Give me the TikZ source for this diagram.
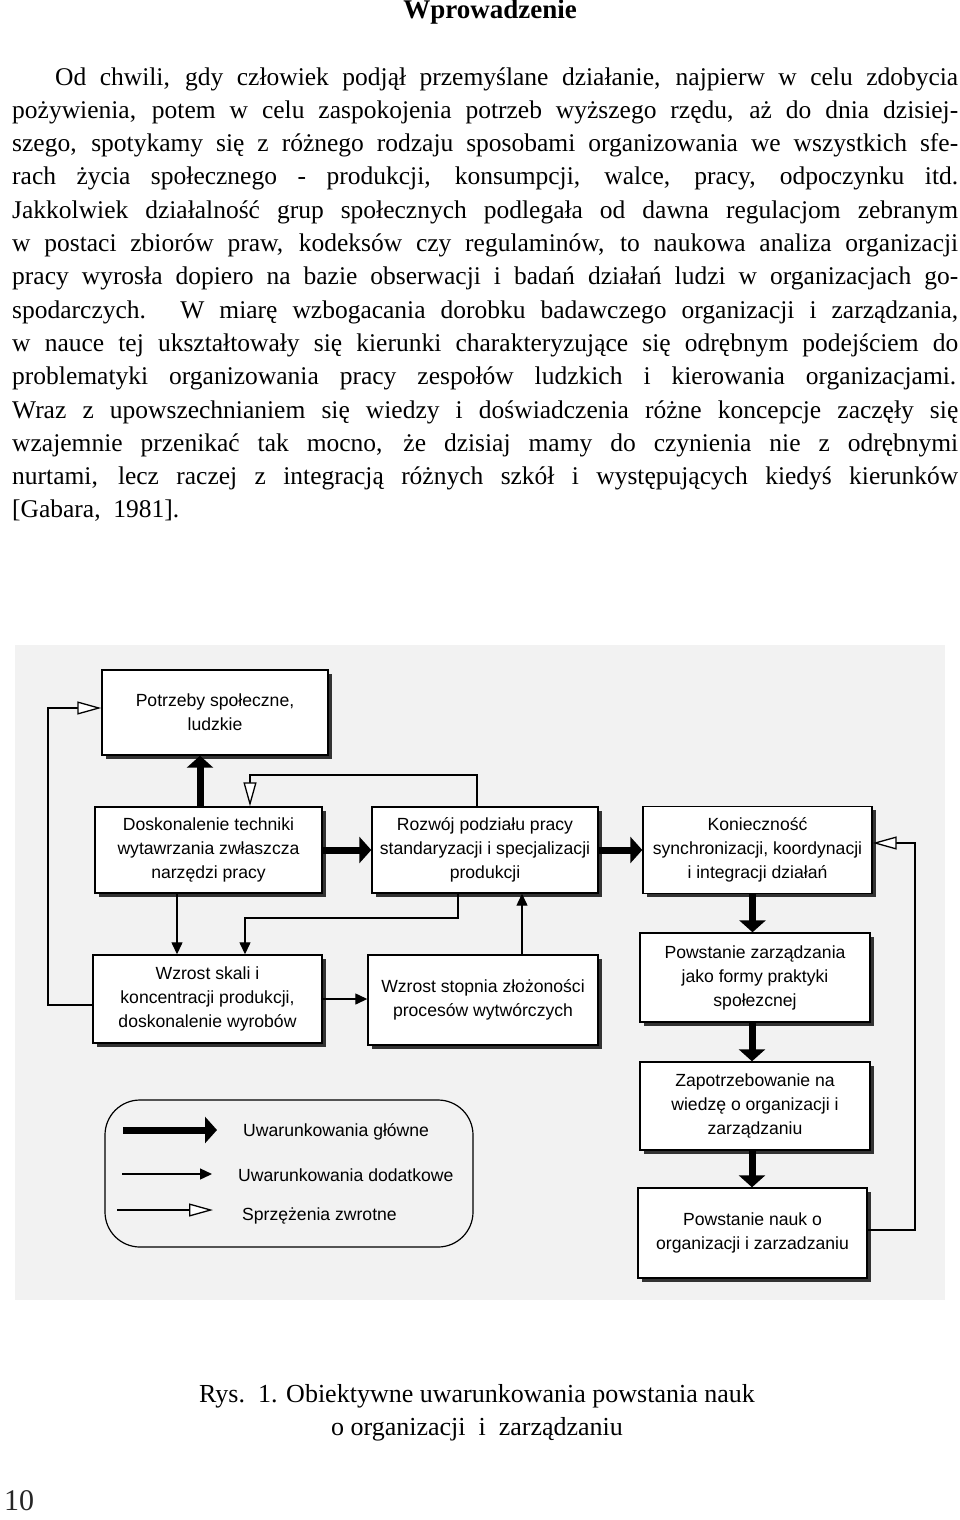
\documentclass[tikz,border=0pt]{standalone}
\usepackage{fontspec}
\setmainfont{Liberation Serif}
\newfontfamily\bodyfont{Liberation Serif}
\newfontfamily\diagfont{Liberation Sans}
\usetikzlibrary{arrows.meta,shadows,calc}
\tikzset{
  box/.style={draw, line width=1.4pt, fill=white, align=center,
    font=\diagfont\fontsize{17.6}{24}\selectfont, inner sep=3pt,
    drop shadow={shadow xshift=3.5pt, shadow yshift=-3.5pt, fill=black!80, opacity=1}},
  mainarr/.style={line width=7pt, -{Triangle[length=12pt,width=26pt]}},
  addarr/.style={line width=1.3pt, -{Triangle[length=12pt,width=11pt]}},
  fbarr/.style={line width=1.3pt, -{Triangle[open,length=24pt,width=13pt,fill=white]}},
  bodyline/.style={anchor=base west, inner sep=0pt, font=\bodyfont\fontsize{25.5}{33}\selectfont},
  captline/.style={anchor=base, inner sep=0pt, font=\bodyfont\fontsize{26}{33}\selectfont},
  leglabel/.style={anchor=west, inner sep=0pt, font=\diagfont\fontsize{17.6}{20}\selectfont},
}
\begin{document}
\begin{tikzpicture}[x=1pt,y=-1pt]
\useasboundingbox[fill=white] (0,0) rectangle (960,1520);

% title and text
\node[anchor=base, inner sep=0pt, font=\bodyfont\bfseries\fontsize{27}{30}\selectfont] (title) at (490,19) {Wprowadzenie};
\node[bodyline] (l1) at (55,85) {\makebox[903pt][s]{Od chwili, gdy człowiek podjął przemyślane działanie, najpierw w celu zdobycia}};
\node[bodyline] (l2) at (12,118.3) {\makebox[946pt][s]{pożywienia, potem w celu zaspokojenia potrzeb wyższego rzędu, aż do dnia dzisiej-}};
\node[bodyline] (l3) at (12,151.6) {\makebox[946pt][s]{szego, spotykamy się z różnego rodzaju sposobami organizowania we wszystkich sfe-}};
\node[bodyline] (l4) at (12,184.9) {\makebox[946pt][s]{rach życia społecznego - produkcji, konsumpcji, walce, pracy, odpoczynku itd.}};
\node[bodyline] (l5) at (12,218.2) {\makebox[946pt][s]{Jakkolwiek działalność grup społecznych podlegała od dawna regulacjom zebranym}};
\node[bodyline] (l6) at (12,251.5) {\makebox[946pt][s]{w postaci zbiorów praw, kodeksów czy regulaminów, to naukowa analiza organizacji}};
\node[bodyline] (l7) at (12,284.8) {\makebox[946pt][s]{pracy wyrosła dopiero na bazie obserwacji i badań działań ludzi w organizacjach go-}};
\node[bodyline] (l8) at (12,318.1) {\makebox[946pt][s]{spodarczych. W miarę wzbogacania dorobku badawczego organizacji i zarządzania,}};
\node[bodyline] (l9) at (12,351.4) {\makebox[946pt][s]{w nauce tej ukształtowały się kierunki charakteryzujące się odrębnym podejściem do}};
\node[bodyline] (l10) at (12,384.7) {\makebox[944pt][s]{problematyki organizowania pracy zespołów ludzkich i kierowania organizacjami.}};
\node[bodyline] (l11) at (12,418) {\makebox[946pt][s]{Wraz z upowszechnianiem się wiedzy i doświadczenia różne koncepcje zaczęły się}};
\node[bodyline] (l12) at (12,451.3) {\makebox[946pt][s]{wzajemnie przenikać tak mocno, że dzisiaj mamy do czynienia nie z odrębnymi}};
\node[bodyline] (l13) at (12,484.6) {\makebox[946pt][s]{nurtami, lecz raczej z integracją różnych szkół i występujących kiedyś kierunków}};
\node[bodyline] (l14) at (12,517.9) {[Gabara,\ \ 1981].};

% scanned figure background
\fill[black!5] (15,645) rectangle (945,1300);

% boxes
\node[box, minimum width=226pt, minimum height=85pt] (pot) at (215,712.5) {Potrzeby społeczne,\\ludzkie};
\node[box, minimum width=227pt, minimum height=86pt] (dosk) at (208.5,850) {Doskonalenie techniki\\wytawrzania zwłaszcza\\narzędzi pracy};
\node[box, minimum width=226pt, minimum height=86pt] (rozw) at (485,850) {Rozwój podziału pracy\\standaryzacji i specjalizacji\\produkcji};
\node[box, minimum width=229pt, minimum height=87pt] (kon) at (757.5,850) {Konieczność\\synchronizacji, koordynacji\\i integracji działań};
\node[box, minimum width=229pt, minimum height=88pt] (wsk) at (207.5,999) {Wzrost skali i\\koncentracji produkcji,\\doskonalenie wyrobów};
\node[box, minimum width=230pt, minimum height=90pt] (wst) at (483,1000) {Wzrost stopnia złożoności\\procesów wytwórczych};
\node[box, minimum width=230pt, minimum height=89pt] (pz) at (755,977.5) {Powstanie zarządzania\\jako formy praktyki\\społezcnej};
\node[box, minimum width=230pt, minimum height=88pt] (zap) at (755,1106) {Zapotrzebowanie na\\wiedzę o organizacji i\\zarządzaniu};
\node[box, minimum width=229pt, minimum height=90pt] (pn) at (752.5,1233) {Powstanie nauk o\\organizacji i zarzadzaniu};

% main conditions
\draw[mainarr] ([xshift=-8.5pt]dosk.north) -- ([xshift=-8.5pt]dosk.north |- pot.south);
\draw[mainarr] (dosk.east) -- (rozw.west);
\draw[mainarr] (rozw.east) -- (kon.west);
\draw[mainarr] ([xshift=-5pt]kon.south) -- ([xshift=-5pt]kon.south |- pz.north);
\draw[mainarr] ([xshift=-3pt]pz.south) -- ([xshift=-3pt]pz.south |- zap.north);
\draw[mainarr] ([xshift=-3pt]zap.south) -- ([xshift=-3pt]zap.south |- pn.north);

% additional conditions
\coordinate (mid) at (245,918);
\draw[addarr] ([xshift=-31.5pt]dosk.south) -- ([xshift=-31.5pt]dosk.south |- wsk.north);
\draw[addarr] ([xshift=-27pt]rozw.south) |- (mid) -- (mid |- wsk.north);
\draw[addarr] (wsk.east) -- (wsk.east -| wst.west);
\draw[addarr] ([xshift=39pt]wst.north) -- ([xshift=39pt]wst.north |- rozw.south);

% feedback
\coordinate (rfb) at (915,843);
\coordinate (lfb) at (48,708);
\coordinate (tfb) at (250,775);
\draw[fbarr] ([yshift=3pt]pn.east) -| (rfb) -- (rfb -| kon.east);
\draw[fbarr] ([yshift=-6pt]wsk.west) -| (lfb) -- (lfb -| pot.west);
\draw[fbarr] ([xshift=-8pt]rozw.north) |- (tfb) -- (tfb |- dosk.north);

% legend
\node[draw, line width=1.2pt, rounded corners=35pt, minimum width=368pt, minimum height=147pt] (leg) at (289,1173.5) {};
\coordinate (a1s) at (123,1130); \coordinate (a1e) at (217,1130);
\coordinate (a2s) at (122,1174); \coordinate (a2e) at (212,1174);
\coordinate (a3s) at (117,1210); \coordinate (a3e) at (213,1210);
\draw[mainarr] (a1s) -- (a1e);
\draw[addarr] (a2s) -- (a2e);
\draw[fbarr] (a3s) -- (a3e);
\node[leglabel] (g1) at (243,1132) {Uwarunkowania główne};
\node[leglabel] (g2) at (238,1175) {Uwarunkowania dodatkowe};
\node[leglabel] (g3) at (242,1216) {Sprzężenia zwrotne};

% caption and page number
\node[captline] (c1) at (477,1402) {Rys.\ \ 1. Obiektywne uwarunkowania powstania nauk};
\node[captline] (c2) at (477,1435) {o\ organizacji\ \ i\ \ zarządzaniu};
\node[anchor=base west, inner sep=0pt, text=black!85, font=\fontsize{30}{30}\selectfont] (pg) at (4,1510) {10};
\end{tikzpicture}
\end{document}
